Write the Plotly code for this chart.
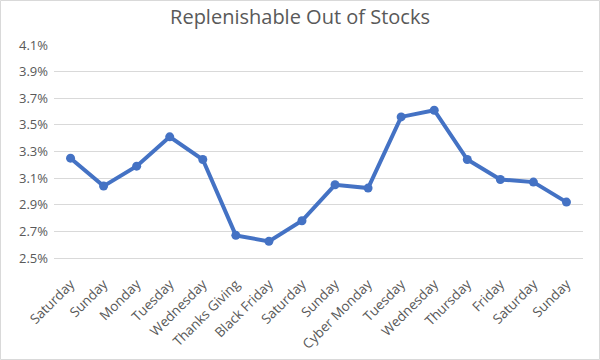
import plotly.graph_objects as go

categories = ["Saturday", "Sunday", "Monday", "Tuesday", "Wednesday", "Thanks Giving",
              "Black Friday", "Saturday", "Sunday", "Cyber Monday", "Tuesday", "Wednesday",
              "Thursday", "Friday", "Saturday", "Sunday"]
values = [0.0325, 0.0304, 0.0319, 0.0341, 0.0324, 0.0267, 0.02625, 0.0278,
          0.0305, 0.03025, 0.0356, 0.0361, 0.0324, 0.0309, 0.0307, 0.0292]
tick_vals = [0.025, 0.027, 0.029, 0.031, 0.033, 0.035, 0.037, 0.039, 0.041]

x_idx = list(range(len(categories)))

fig = go.Figure()
fig.add_trace(go.Scatter(
    x=x_idx, y=values, mode="lines+markers",
    line=dict(color="#4472C4", width=4),
    marker=dict(color="#4472C4", size=9),
    hoverinfo="skip",
))

L, R, T, B = 54, 17, 45, 102
W, H = 600, 360
pw, ph = W - L - R, H - T - B

fig.update_layout(
    width=W, height=H,
    margin=dict(l=L, r=R, t=T, b=B, autoexpand=False),
    paper_bgcolor="white", plot_bgcolor="white",
    showlegend=False,
    font=dict(family="Open Sans, Liberation Sans, sans-serif", color="#595959", size=13),
    title=dict(text="Replenishable Out of Stocks", x=0.5, xanchor="center",
               y=1 - 17 / H, yanchor="middle",
               font=dict(size=20, color="#595959")),
    xaxis=dict(
        tickmode="array", tickvals=x_idx, ticktext=categories,
        range=[-0.5, len(categories) - 0.5], automargin=False,
        tickangle=-45, showgrid=False, zeroline=False,
        showline=True, linecolor="#d9d9d9", linewidth=1,
        ticks="", ticklabelstandoff=12, tickfont=dict(size=13.5, color="#595959"),
    ),
    yaxis=dict(
        range=[0.025, 0.041], tickvals=tick_vals, tickformat=".1%",
        automargin=False,
        showgrid=True, gridcolor="#d9d9d9", gridwidth=1,
        zeroline=False, showline=False, ticks="", ticklabelstandoff=5,
        tickfont=dict(size=13, color="#595959"),
    ),
)

fig.add_shape(type="rect", xref="paper", yref="paper",
              x0=(0.5 - L) / pw, x1=(W - 0.5 - L) / pw,
              y0=(T + ph - (H - 0.5)) / ph, y1=(T + ph - 0.5) / ph,
              line=dict(color="#d9d9d9", width=1), fillcolor="rgba(0,0,0,0)", layer="below")

fig.write_html("out.html", config={"displayModeBar": False},
               post_script="document.body.style.margin='0px';")
